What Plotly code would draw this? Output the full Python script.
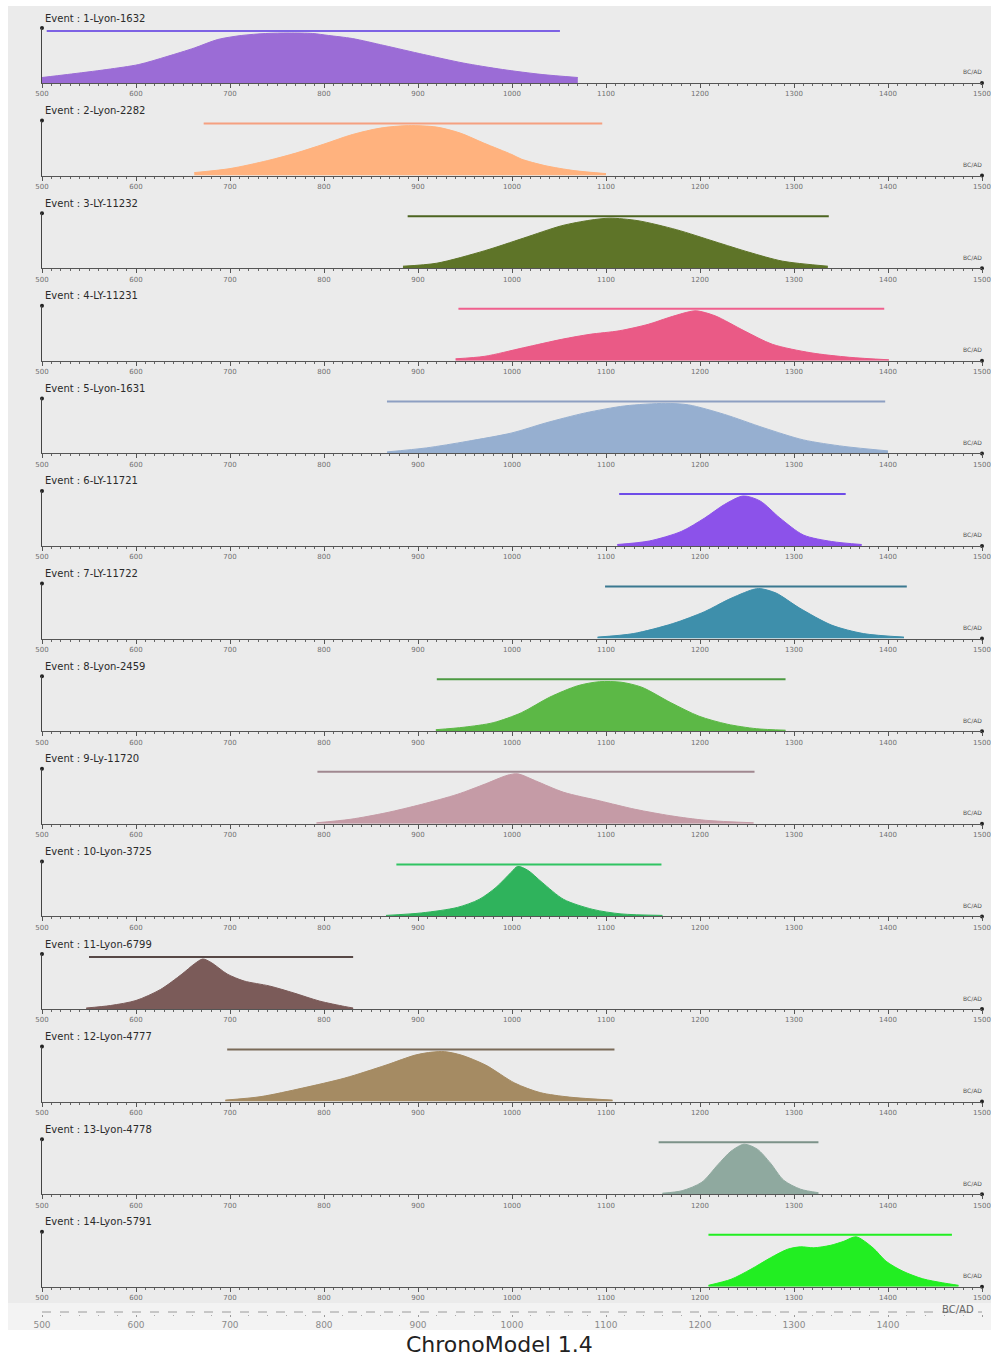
import plotly.graph_objects as go

# ---------------- data ----------------
event_names = [
    "Event : 1-Lyon-1632", "Event : 2-Lyon-2282", "Event : 3-LY-11232",
    "Event : 4-LY-11231", "Event : 5-Lyon-1631", "Event : 6-LY-11721",
    "Event : 7-LY-11722", "Event : 8-Lyon-2459", "Event : 9-Ly-11720",
    "Event : 10-Lyon-3725", "Event : 11-Lyon-6799", "Event : 12-Lyon-4777",
    "Event : 13-Lyon-4778", "Event : 14-Lyon-5791",
]
fill_colors = [
    "#9b6cd6", "#ffb27e", "#5e7428", "#ea5a86", "#96afd0", "#8c52ea", "#3e8fab",
    "#5cb846", "#c59ba6", "#2fb35c", "#7b5b59", "#a58b63", "#8fa99f", "#22ee22",
]
hpd_colors = [
    "#7d62e4", "#f5a080", "#4d6420", "#f0608e", "#8d9fc2", "#6e4ce8", "#3a7890",
    "#4c9a42", "#a08890", "#30c462", "#574846", "#7a6a58", "#7c9289", "#22ee22",
]
hpd_start = [505, 672, 889, 943, 867, 1114, 1099, 920, 793, 877, 550, 697, 1156, 1209]
hpd_end = [1051, 1096, 1337, 1396, 1397, 1355, 1420, 1291, 1258, 1159, 831, 1109, 1326, 1468]

years_01 = [500, 527, 569, 603, 633, 662, 687, 712, 738, 763, 788, 805, 830, 864, 906, 948, 990, 1032, 1070]
dens_01 = [0.11, 0.17, 0.27, 0.37, 0.53, 0.70, 0.87, 0.95, 0.99, 1.0, 0.99, 0.95, 0.89, 0.75, 0.57, 0.40, 0.27, 0.17, 0.11]
years_02 = [662, 700, 740, 770, 800, 830, 860, 890, 920, 945, 970, 1000, 1010, 1035, 1066, 1100]
dens_02 = [0.06, 0.14, 0.30, 0.45, 0.63, 0.82, 0.95, 1.0, 0.97, 0.85, 0.65, 0.42, 0.33, 0.20, 0.10, 0.04]
years_03 = [884, 920, 971, 1012, 1053, 1083, 1104, 1134, 1175, 1216, 1252, 1288, 1336]
dens_03 = [0.04, 0.10, 0.35, 0.60, 0.85, 0.96, 1.0, 0.95, 0.77, 0.53, 0.32, 0.14, 0.04]
years_04 = [940, 971, 1012, 1053, 1083, 1114, 1145, 1166, 1186, 1196, 1216, 1247, 1277, 1318, 1359, 1401]
dens_04 = [0.04, 0.09, 0.26, 0.43, 0.53, 0.60, 0.73, 0.86, 0.97, 1.0, 0.90, 0.60, 0.33, 0.16, 0.07, 0.02]
years_05 = [867, 909, 952, 1000, 1036, 1078, 1120, 1163, 1188, 1226, 1268, 1310, 1353, 1400]
dens_05 = [0.03, 0.11, 0.24, 0.41, 0.61, 0.81, 0.95, 1.0, 0.97, 0.78, 0.51, 0.27, 0.14, 0.05]
years_06 = [1112, 1146, 1180, 1205, 1226, 1246, 1264, 1285, 1310, 1340, 1372]
dens_06 = [0.03, 0.10, 0.29, 0.56, 0.83, 1.0, 0.90, 0.56, 0.22, 0.09, 0.03]
years_07 = [1091, 1129, 1171, 1205, 1230, 1256, 1264, 1281, 1306, 1340, 1374, 1417]
dens_07 = [0.03, 0.10, 0.30, 0.54, 0.78, 0.98, 1.0, 0.91, 0.61, 0.27, 0.10, 0.03]
years_08 = [919, 949, 980, 1010, 1040, 1070, 1093, 1116, 1138, 1169, 1199, 1229, 1260, 1291]
dens_08 = [0.03, 0.08, 0.17, 0.37, 0.68, 0.91, 0.99, 0.98, 0.88, 0.57, 0.30, 0.14, 0.05, 0.02]
years_09 = [792, 828, 866, 904, 942, 972, 995, 1006, 1025, 1055, 1093, 1131, 1169, 1206, 1257]
dens_09 = [0.02, 0.09, 0.22, 0.39, 0.59, 0.80, 0.97, 1.0, 0.86, 0.63, 0.46, 0.29, 0.16, 0.07, 0.02]
years_10 = [866, 904, 942, 965, 983, 999, 1006, 1017, 1032, 1055, 1086, 1116, 1160]
dens_10 = [0.02, 0.07, 0.18, 0.34, 0.58, 0.88, 1.0, 0.92, 0.68, 0.34, 0.14, 0.05, 0.02]
years_11 = [547, 573, 600, 626, 649, 662, 671, 680, 697, 715, 742, 768, 795, 822, 831]
dens_11 = [0.02, 0.07, 0.17, 0.39, 0.70, 0.90, 1.0, 0.93, 0.70, 0.56, 0.46, 0.32, 0.16, 0.05, 0.02]
years_12 = [695, 733, 777, 822, 866, 897, 915, 928, 946, 972, 1003, 1030, 1061, 1107]
dens_12 = [0.03, 0.10, 0.27, 0.47, 0.73, 0.93, 0.99, 1.0, 0.93, 0.73, 0.37, 0.18, 0.09, 0.03]
years_13 = [1160, 1181, 1202, 1219, 1233, 1247, 1261, 1275, 1289, 1307, 1326]
dens_13 = [0.02, 0.07, 0.24, 0.59, 0.86, 1.0, 0.90, 0.62, 0.28, 0.10, 0.03]
years_14 = [1209, 1233, 1254, 1275, 1293, 1307, 1321, 1339, 1353, 1366, 1384, 1398, 1416, 1437, 1458, 1475]
dens_14 = [0.03, 0.15, 0.35, 0.58, 0.75, 0.80, 0.78, 0.83, 0.91, 1.0, 0.78, 0.51, 0.31, 0.16, 0.08, 0.03]

all_years = [years_01, years_02, years_03, years_04, years_05, years_06, years_07,
             years_08, years_09, years_10, years_11, years_12, years_13, years_14]
all_dens = [dens_01, dens_02, dens_03, dens_04, dens_05, dens_06, dens_07,
            dens_08, dens_09, dens_10, dens_11, dens_12, dens_13, dens_14]

tick_vals = [500, 600, 700, 800, 900, 1000, 1100, 1200, 1300, 1400, 1500]
tick_text = ["500", "600", "700", "800", "900", "1000", "1100", "1200", "1300", "1400", "1500"]
axis_unit = "BC/AD"
footer_title = "ChronoModel 1.4"

# ---------------- layout geometry ----------------
W, H = 991, 1356
X0_PX, X1_PX = 42, 982
BASE0, STEP = 83, 92.6
HPD_LEVEL = 1.04
Y_TOP = 1.1
PANEL_PX = 52 * Y_TOP / HPD_LEVEL
FONT = "DejaVu Sans"


def py(px):
    return 1 - px / H


def pxx(px):
    return px / W


fig = go.Figure()
layout = dict(
    width=W, height=H, margin=dict(l=0, r=0, t=0, b=0, pad=0, autoexpand=False),
    paper_bgcolor="white", plot_bgcolor="rgba(0,0,0,0)",
    showlegend=False, font=dict(family=FONT, color="#333"),
    shapes=[], annotations=[],
)

# grey backdrop
layout["shapes"].append(dict(type="rect", xref="paper", yref="paper",
                             x0=pxx(8), x1=1, y0=py(1303), y1=py(6),
                             fillcolor="#ebebeb", line=dict(width=0), layer="below"))
layout["shapes"].append(dict(type="rect", xref="paper", yref="paper",
                             x0=pxx(8), x1=1, y0=py(1330), y1=py(1303),
                             fillcolor="#f3f3f3", line=dict(width=0), layer="below"))

n = len(event_names)
for i in range(n):
    k = i + 1
    xa = "x" if k == 1 else f"x{k}"
    ya = "y" if k == 1 else f"y{k}"
    base = BASE0 + STEP * i
    top = base - PANEL_PX
    fig.add_trace(go.Scatter(
        x=all_years[i], y=all_dens[i], mode="lines",
        line=dict(color=fill_colors[i], width=1, shape="spline", smoothing=0.8),
        fill="tozeroy", fillcolor=fill_colors[i], xaxis=xa, yaxis=ya, hoverinfo="skip"))
    fig.add_trace(go.Scatter(
        x=[hpd_start[i], hpd_end[i]], y=[HPD_LEVEL, HPD_LEVEL], mode="lines",
        line=dict(color=hpd_colors[i], width=2), xaxis=xa, yaxis=ya, hoverinfo="skip"))
    # axis end dots
    fig.add_trace(go.Scatter(
        x=[500, 1500], y=[Y_TOP, 0], mode="markers",
        marker=dict(color="#222", size=4), cliponaxis=False,
        xaxis=xa, yaxis=ya, hoverinfo="skip"))

    xkey = "xaxis" if k == 1 else f"xaxis{k}"
    ykey = "yaxis" if k == 1 else f"yaxis{k}"
    layout[xkey] = dict(
        domain=[pxx(X0_PX), pxx(X1_PX)], anchor=ya, range=[500, 1500], automargin=False,
        showgrid=False, zeroline=False, showline=True, linecolor="#555", linewidth=1,
        tickmode="array", tickvals=tick_vals, ticktext=tick_text,
        ticks="outside", ticklen=4, tickcolor="#555", tickwidth=1,
        minor=dict(ticks="outside", dtick=10, ticklen=2, tickcolor="#666", showgrid=False),
        tickfont=dict(size=7, color="#707070", family=FONT),
    )
    layout[ykey] = dict(
        domain=[py(base), py(top)], anchor=xa, range=[0, Y_TOP], automargin=False,
        showgrid=False, zeroline=False, showline=True, linecolor="#444", linewidth=1,
        showticklabels=False, ticks="",
    )
    layout["annotations"].append(dict(
        text=event_names[i], xref="paper", yref="paper", x=pxx(43), y=py(base - 65),
        xanchor="left", yanchor="middle", showarrow=False,
        font=dict(size=10, color="#2a2a2a", family=FONT)))
    layout["annotations"].append(dict(
        text=axis_unit, xref="paper", yref="paper", x=pxx(972), y=py(base - 11),
        xanchor="center", yanchor="middle", showarrow=False,
        font=dict(size=6, color="#555", family=FONT)))

# bottom reference axis
kb = n + 1
fig.add_trace(go.Scatter(x=[500, 1500], y=[0, 0], mode="lines",
                         line=dict(color="#9a9a9a", width=1, dash="dash"),
                         xaxis=f"x{kb}", yaxis=f"y{kb}", hoverinfo="skip"))
layout[f"xaxis{kb}"] = dict(
    domain=[pxx(X0_PX), pxx(X1_PX)], anchor=f"y{kb}", range=[500, 1500], automargin=False,
    showgrid=False, zeroline=False, showline=False,
    tickmode="array", tickvals=tick_vals, ticktext=tick_text,
    ticks="outside", ticklen=2, tickcolor="#999",
    minor=dict(ticks="outside", dtick=20, ticklen=1, tickcolor="#aaa", showgrid=False),
    tickfont=dict(size=9, color="#8a8a8a", family=FONT),
)
layout[f"yaxis{kb}"] = dict(domain=[py(1314), py(1310)], anchor=f"x{kb}", range=[-1, 1],
                            visible=False, automargin=False)
layout["annotations"].append(dict(
    text=axis_unit, xref="paper", yref="paper", x=pxx(958), y=py(1309),
    xanchor="center", yanchor="middle", showarrow=False,
    font=dict(size=10, color="#666", family=FONT)))
layout["annotations"].append(dict(
    text=footer_title, xref="paper", yref="paper", x=pxx(499), y=py(1344),
    xanchor="center", yanchor="middle", showarrow=False,
    font=dict(size=22, color="#222", family=FONT)))

fig.update_layout(**layout)
fig.write_html(
    "out.html",
    config={"displayModeBar": False},
    post_script="document.body.style.margin='0px';document.body.style.overflow='hidden';",
)
